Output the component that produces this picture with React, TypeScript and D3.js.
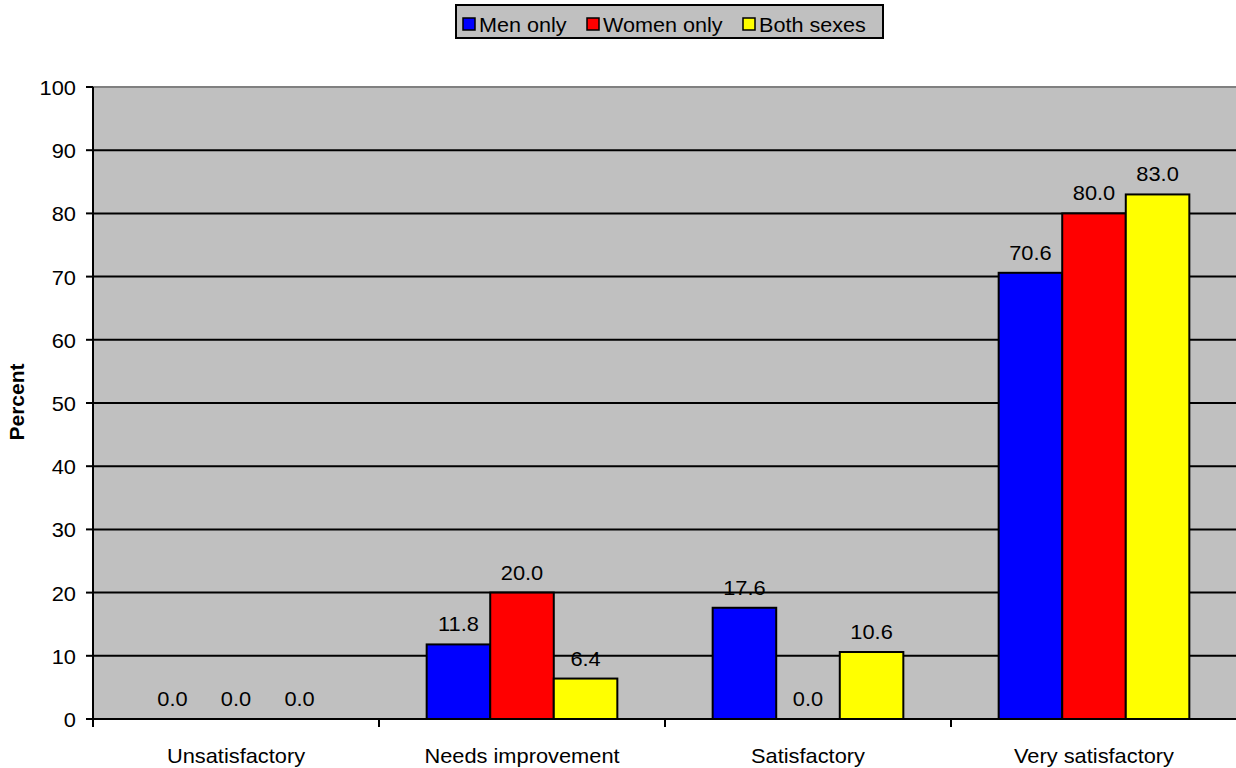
import React from "react";
import * as d3 from "d3";

// Survey ratings by group (percent)
const categories = ["Unsatisfactory", "Needs improvement", "Satisfactory", "Very satisfactory"];
const seriesNames = ["Men only", "Women only", "Both sexes"];
const menOnly = [0.0, 11.8, 17.6, 70.6];
const womenOnly = [0.0, 20.0, 0.0, 80.0];
const bothSexes = [0.0, 6.4, 10.6, 83.0];
const seriesColors = ["#0000ff", "#ff0000", "#ffff00"];
const yTicks = [0, 10, 20, 30, 40, 50, 60, 70, 80, 90, 100];

const W = 1236;
const H = 768;
const plot = { left: 93, right: 1237, top: 87, bottom: 719 };
const FONT = "Arial, 'Liberation Sans', sans-serif";
const SX = 1.08; // slight horizontal widening of the lettering

function Label(props: {
  x: number;
  y: number;
  text: string;
  anchor?: string;
  size?: number;
  weight?: string | number;
}) {
  const { x, y, text, anchor = "middle", size = 20.2, weight = "normal" } = props;
  return (
    <text
      transform={`translate(${x},${y}) scale(${SX},1)`}
      textAnchor={anchor}
      fontFamily={FONT}
      fontSize={size}
      fontWeight={weight}
      fill="#000"
    >
      {text}
    </text>
  );
}

export default function App() {
  const values = [menOnly, womenOnly, bothSexes];

  const x0 = d3.scaleBand<string>().domain(categories).range([plot.left, plot.right]).padding(0);
  const x1 = d3
    .scaleBand<string>()
    .domain(seriesNames)
    .range([0, x0.bandwidth()])
    .paddingInner(0)
    .paddingOuter(0.75);
  const y = d3.scaleLinear().domain([0, 100]).range([plot.bottom, plot.top]);

  const legendItems = [
    { sq: 463, tx: 479 },
    { sq: 587, tx: 603 },
    { sq: 743, tx: 759 },
  ];

  const boundaries = categories.map((c) => x0(c)!).concat([plot.right]);

  return (
    <svg
      width={W}
      height={H}
      style={{ position: "absolute", left: 0, top: 0, display: "block", background: "#fff" }}
    >
      {/* plot background */}
      <rect
        x={plot.left}
        y={plot.top}
        width={plot.right - plot.left}
        height={plot.bottom - plot.top}
        fill="#c0c0c0"
      />
      {/* top border */}
      <line x1={plot.left} x2={plot.right} y1={plot.top} y2={plot.top} stroke="#808080" strokeWidth={2} />

      {/* gridlines */}
      {yTicks
        .filter((t) => t > 0 && t < 100)
        .map((t) => (
          <line key={t} x1={plot.left} x2={plot.right} y1={y(t)} y2={y(t)} stroke="#000" strokeWidth={2} />
        ))}

      {/* bars */}
      {categories.map((c, ci) =>
        seriesNames.map((s, si) => {
          const v = values[si][ci];
          const bx = x0(c)! + x1(s)!;
          const top = y(v);
          return (
            <g key={c + s}>
              {v > 0 && (
                <rect
                  x={bx}
                  y={top}
                  width={x1.bandwidth()}
                  height={plot.bottom - top}
                  fill={seriesColors[si]}
                  stroke="#000"
                  strokeWidth={2}
                />
              )}
              <Label x={bx + x1.bandwidth() / 2} y={top - 13} text={v.toFixed(1)} />
            </g>
          );
        })
      )}

      {/* y axis */}
      <line x1={plot.left} x2={plot.left} y1={plot.top} y2={plot.bottom + 8} stroke="#000" strokeWidth={2} />
      {yTicks.map((t) => (
        <g key={t}>
          <line x1={plot.left - 7} x2={plot.left} y1={y(t)} y2={y(t)} stroke="#000" strokeWidth={2} />
          <Label x={76} y={y(t) + 8} text={String(t)} anchor="end" />
        </g>
      ))}

      {/* x axis */}
      <line x1={plot.left} x2={plot.right} y1={plot.bottom} y2={plot.bottom} stroke="#000" strokeWidth={2} />
      {boundaries.map((b, i) => (
        <line key={i} x1={b} x2={b} y1={plot.bottom} y2={plot.bottom + 8} stroke="#000" strokeWidth={2} />
      ))}
      {categories.map((c) => (
        <Label key={c} x={x0(c)! + x0.bandwidth() / 2} y={763} text={c} />
      ))}

      {/* y axis title */}
      <text
        transform="translate(24,402) rotate(-90) scale(1.05,1)"
        textAnchor="middle"
        fontFamily={FONT}
        fontSize={20}
        fontWeight="bold"
        fill="#000"
      >
        Percent
      </text>

      {/* legend */}
      <rect x={456} y={5} width={427} height={33} fill="#c0c0c0" stroke="#000" strokeWidth={2} />
      {seriesNames.map((s, i) => (
        <g key={s}>
          <rect
            x={legendItems[i].sq}
            y={18}
            width={12}
            height={12}
            fill={seriesColors[i]}
            stroke="#000"
            strokeWidth={1.5}
          />
          <Label x={legendItems[i].tx} y={32} text={s} anchor="start" size={20} />
        </g>
      ))}
    </svg>
  );
}
